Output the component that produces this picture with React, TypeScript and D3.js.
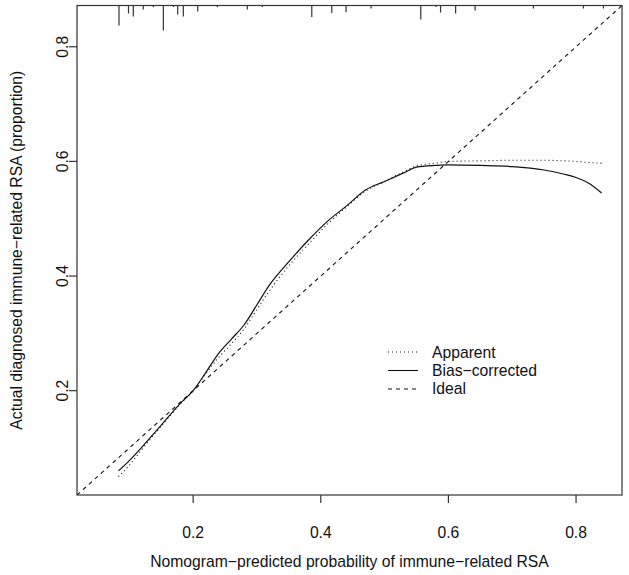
import { useRef, useEffect } from 'react';
import * as d3 from 'd3';

// predicted probability grid for the two calibration curves
const predicted = [0.083, 0.10, 0.12, 0.15, 0.18, 0.20, 0.22, 0.24, 0.26, 0.28, 0.30, 0.32, 0.35, 0.38, 0.41, 0.44, 0.47, 0.50, 0.53, 0.55, 0.58, 0.60, 0.65, 0.70, 0.75, 0.78, 0.80, 0.82, 0.84];
const apparent = [0.050, 0.070, 0.098, 0.138, 0.177, 0.200, 0.230, 0.258, 0.282, 0.308, 0.342, 0.375, 0.418, 0.455, 0.490, 0.520, 0.548, 0.565, 0.582, 0.592, 0.597, 0.600, 0.601, 0.602, 0.602, 0.601, 0.600, 0.598, 0.597];
const biasCorrected = [0.060, 0.078, 0.102, 0.140, 0.178, 0.200, 0.232, 0.265, 0.290, 0.315, 0.350, 0.385, 0.425, 0.462, 0.495, 0.522, 0.550, 0.565, 0.580, 0.590, 0.593, 0.594, 0.593, 0.591, 0.585, 0.578, 0.572, 0.562, 0.545];

// rug of predicted probabilities at the top (relative frequency)
const rugX = [0.0838, 0.0987, 0.1062, 0.1219, 0.1376, 0.1533, 0.169, 0.1758, 0.1846, 0.2072, 0.2379, 0.2849, 0.3084, 0.3859, 0.4172, 0.4396, 0.4788, 0.5567, 0.5807, 0.5877, 0.6113, 0.6418, 0.7332, 0.8116, 0.8429];
const rugFreq = [0.8, 0.32, 0.44, 0.16, 0.06, 1.0, 0.06, 0.36, 0.44, 0.24, 0.06, 0.16, 0.06, 0.46, 0.3, 0.27, 0.12, 0.56, 0.06, 0.28, 0.32, 0.2, 0.12, 0.12, 0.12];

const xTicks = [0.2, 0.4, 0.6, 0.8];
const yTicks = [0.2, 0.4, 0.6, 0.8];
const legendLabels = ['Apparent', 'Bias\u2212corrected', 'Ideal'];

export default function App() {
  const svgRef = useRef<SVGSVGElement>(null);

  useEffect(() => {
    const width = 629;
    const height = 575;
    const margin = { top: 5.5, right: 7, bottom: 80, left: 77 };
    const font = '"Liberation Sans", Arial, sans-serif';
    const fs = 15.7;

    const svg = d3.select(svgRef.current);
    svg.selectAll('*').remove();

    const x = d3.scaleLinear().domain([0.018, 0.872]).range([margin.left, width - margin.right]);
    const y = d3.scaleLinear().domain([0.018, 0.872]).range([height - margin.bottom, margin.top]);
    const rugLen = d3.scaleLinear().domain([0, 1]).range([0, 25]);

    svg.append('clipPath').attr('id', 'plot-clip')
      .append('rect')
      .attr('x', margin.left).attr('y', margin.top)
      .attr('width', width - margin.left - margin.right)
      .attr('height', height - margin.top - margin.bottom);

    const plot = svg.append('g').attr('clip-path', 'url(#plot-clip)');

    // ideal line
    plot.append('line')
      .attr('x1', x(0.018)).attr('y1', y(0.018))
      .attr('x2', x(0.872)).attr('y2', y(0.872))
      .attr('stroke', '#111').attr('stroke-width', 1.1)
      .attr('stroke-dasharray', '4,4');

    const line = d3.line<number>()
      .x((_, i) => x(predicted[i]))
      .y(d => y(d))
      .curve(d3.curveMonotoneX);

    plot.append('path').datum(apparent)
      .attr('d', line)
      .attr('fill', 'none').attr('stroke', '#111').attr('stroke-width', 1.1)
      .attr('stroke-dasharray', '1,3');

    plot.append('path').datum(biasCorrected)
      .attr('d', line)
      .attr('fill', 'none').attr('stroke', '#111').attr('stroke-width', 1.2);

    // rug
    plot.selectAll('.rug')
      .data(rugX)
      .join('line')
      .attr('class', 'rug')
      .attr('x1', d => x(d)).attr('x2', d => x(d))
      .attr('y1', margin.top)
      .attr('y2', (_, i) => margin.top + rugLen(rugFreq[i]))
      .attr('stroke', '#333').attr('stroke-width', 1.2);

    // frame
    svg.append('rect')
      .attr('x', margin.left).attr('y', margin.top)
      .attr('width', width - margin.left - margin.right)
      .attr('height', height - margin.top - margin.bottom)
      .attr('fill', 'none').attr('stroke', '#333').attr('stroke-width', 1.2);

    // x axis
    const xAxis = svg.append('g').attr('transform', `translate(0,${height - margin.bottom})`);
    xAxis.selectAll('line')
      .data(xTicks)
      .join('line')
      .attr('x1', d => x(d)).attr('x2', d => x(d))
      .attr('y1', 0).attr('y2', 8)
      .attr('stroke', '#333').attr('stroke-width', 1.2);
    xAxis.selectAll('text')
      .data(xTicks)
      .join('text')
      .attr('x', d => x(d)).attr('y', 42.5)
      .attr('text-anchor', 'middle')
      .attr('font-family', font).attr('font-size', fs).attr('fill', '#111')
      .text(d => d.toFixed(1));

    // y axis
    const yAxis = svg.append('g').attr('transform', `translate(${margin.left},0)`);
    yAxis.selectAll('line')
      .data(yTicks)
      .join('line')
      .attr('x1', -8).attr('x2', 0)
      .attr('y1', d => y(d)).attr('y2', d => y(d))
      .attr('stroke', '#333').attr('stroke-width', 1.2);
    yAxis.selectAll('text')
      .data(yTicks)
      .join('text')
      .attr('transform', d => `translate(-15,${y(d)}) rotate(-90)`)
      .attr('dy', '0.35em')
      .attr('text-anchor', 'middle')
      .attr('font-family', font).attr('font-size', fs).attr('fill', '#111')
      .text(d => d.toFixed(1));

    // axis titles
    svg.append('text')
      .attr('x', (margin.left + width - margin.right) / 2).attr('y', 567)
      .attr('text-anchor', 'middle')
      .attr('font-family', font).attr('font-size', fs).attr('fill', '#111')
      .text('Nomogram\u2212predicted probability of immune\u2212related RSA');

    svg.append('text')
      .attr('transform', `translate(16,${(margin.top + height - margin.bottom) / 2}) rotate(-90)`)
      .attr('dy', '0.35em')
      .attr('text-anchor', 'middle')
      .attr('font-family', font).attr('font-size', fs).attr('fill', '#111')
      .text('Actual diagnosed immune\u2212related RSA (proportion)');

    // legend
    const dashes = ['1,3', null, '4,4'];
    const legend = svg.append('g').attr('transform', 'translate(388,352)');
    legendLabels.forEach((label, i) => {
      const ly = i * 18.5;
      legend.append('line')
        .attr('x1', 0).attr('x2', 30).attr('y1', ly).attr('y2', ly)
        .attr('stroke', '#111').attr('stroke-width', 1.1)
        .attr('stroke-dasharray', dashes[i]);
      legend.append('text')
        .attr('x', 44).attr('y', ly).attr('dy', '0.35em')
        .attr('font-family', font).attr('font-size', fs).attr('fill', '#111')
        .text(label);
    });
  }, []);

  return <svg ref={svgRef} width={629} height={575} style={{ position: 'absolute', left: 0, top: 0, background: '#fff' }} />;
}
